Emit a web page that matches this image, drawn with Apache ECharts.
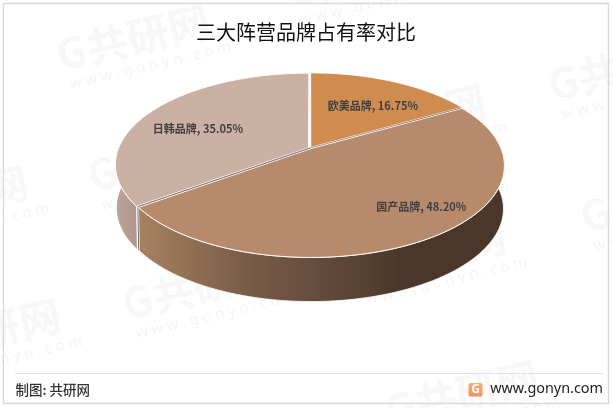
<!DOCTYPE html>
<html>
<head>
<meta charset="utf-8">
<style>html,body{margin:0;padding:0;background:#fff}#c{width:613px;height:408px}</style>
<script src="https://cdn.jsdelivr.net/npm/echarts@6/dist/echarts.min.js"></script>
</head>
<body>
<div id="c"></div>
<script>
const titleText = '三大阵营品牌占有率对比';
const categories = ['欧美品牌', '国产品牌', '日韩品牌'];
const shares = [16.75, 48.20, 35.05];
const sliceColors = ['#d08c4e', '#b88a6c', '#cbb0a4'];
const CJK = '"Noto Sans CJK SC", sans-serif';

// projection of the tilted disc
const CX = 310, AY = 148, RX = 190, RY = 88.5, K = 0.1848;
const BY = 191, BSX = 0.995, BSY = 1.01;
const GAP = 0.008;
const total = shares.reduce((a, b) => a + b, 0);
const starts = shares.map((_, i) => shares.slice(0, i).reduce((a, b) => a + b, 0) / total * Math.PI * 2);
const ends = shares.map((_, i) => shares.slice(0, i + 1).reduce((a, b) => a + b, 0) / total * Math.PI * 2);

function topPt(u, v) { const w = 1 + K * v; return [CX + RX * u / w, AY - RY * v / w]; }
function botPt(u, v) { const w = 1 + K * v; return [CX + BSX * RX * u / w, BY - BSY * RY * v / w]; }
function arc(a0, a1, off, fn) {
  const pts = [], n = 90;
  for (let j = 0; j <= n; j++) {
    const t = a0 + (a1 - a0) * j / n;
    pts.push(fn(off[0] + Math.sin(t), off[1] + Math.cos(t)));
  }
  return pts;
}
const wallFills = [
  '#6b5140',
  { type: 'linear', x: 140, y: 0, x2: 400, y2: 0, global: true, colorStops: [
    { offset: 0, color: '#a68260' }, { offset: 0.4, color: '#7a5c47' },
    { offset: 0.65, color: '#674e3e' }, { offset: 1, color: '#4a3729' }] },
  { type: 'linear', x: 115, y: 0, x2: 142, y2: 0, global: true, colorStops: [
    { offset: 0, color: '#bba499' }, { offset: 1, color: '#ad9489' }] }
];
const labelShift = [[10, 0], [42, 9], [-14, 4]];

function renderItem(params, api) {
  const i = params.dataIndex, val = api.value(0);
  const a0 = starts[i], a1 = a0 + val / total * Math.PI * 2, mid = (a0 + a1) / 2;
  const off = [GAP * Math.sin(mid), GAP * Math.cos(mid)];
  const apexT = topPt(off[0], off[1]);
  const rimT = arc(a0, a1, off, topPt), rimB = arc(a0, a1, off, botPt);
  const c = topPt(off[0] + 0.6 * Math.sin(mid), off[1] + 0.6 * Math.cos(mid));
  const children = [
    { type: 'polygon', z2: 1, shape: { points: rimT.concat(rimB.slice().reverse()) },
      style: { fill: wallFills[i], stroke: '#fff', lineWidth: 0.8 } },
    { type: 'polygon', z2: 5, shape: { points: [apexT].concat(rimT) },
      style: { fill: sliceColors[i], stroke: '#fff', lineWidth: 1 } },
    { type: 'text', z2: 9, style: {
      text: categories[i] + ', ' + val.toFixed(2) + '%',
      x: c[0] + labelShift[i][0], y: c[1] + labelShift[i][1],
      align: 'center', verticalAlign: 'middle',
      font: 'bold 11px ' + CJK, fill: '#404040' } }
  ];
  if (i > 0) { // dark cut faces seen between two slices
    const p = topPt(Math.sin(a0), Math.cos(a0));
    const q = topPt(0, 0);
    children.push({ type: 'line', z2: 6,
      shape: { x1: q[0], y1: q[1], x2: p[0], y2: p[1] },
      style: { stroke: '#7a6a60', lineWidth: 0.7 } });
  }
  if (i === 1) {
    const p = topPt(Math.sin(ends[1]), Math.cos(ends[1]));
    const b = botPt(Math.sin(ends[1]), Math.cos(ends[1]));
    const q = topPt(0, 0);
    children.push({ type: 'line', z2: 6,
      shape: { x1: q[0], y1: q[1], x2: p[0], y2: p[1] },
      style: { stroke: '#7a6a60', lineWidth: 0.7 } });
    children.push({ type: 'line', z2: 4,
      shape: { x1: p[0], y1: p[1], x2: b[0], y2: b[1] },
      style: { stroke: '#55504c', lineWidth: 0.8 } });
  }
  return { type: 'group', children };
}

const wmAnchors = [[62, 76], [554, 106], [586, 238], [93, 197], [128, 325], [391, 432], [358, 291], [338, 156], [-120, 237], [-87, 370], [292, 12]];
const wm = wmAnchors.map(p => ({
  type: 'group', x: p[0], y: p[1], rotation: 0.23, z: 0,
  children: [
    { type: 'text', style: { text: 'G共研网', x: 0, y: 0, align: 'left', verticalAlign: 'bottom', font: 'bold 42px ' + CJK, fill: '#f8f8f8' } },
    { type: 'text', style: { text: 'w w w . g o n y n . c o m', x: 6, y: 3, align: 'left', verticalAlign: 'top', font: '15px "Noto Sans", sans-serif', fill: '#f5f5f5' } }
  ]
}));

const chart = echarts.init(document.getElementById('c'), null, { renderer: 'canvas' });
chart.setOption({
  animation: false,
  backgroundColor: '#fff',
  title: { text: titleText, left: 301, top: 17, textAlign: 'center',
    textStyle: { color: '#111', fontSize: 20, fontWeight: 'normal', fontFamily: '"Noto Sans CJK SC"' } },
  graphic: wm.concat([
    { type: 'rect', z: 1, shape: { x: 3.5, y: 3.5, width: 605, height: 400 }, style: { fill: 'none', stroke: '#d9d9d9', lineWidth: 1.4 } },
    { type: 'line', z: 1, shape: { x1: 15, y1: 373.5, x2: 603, y2: 373.5 }, style: { stroke: '#e3e3e3', lineWidth: 1 } },
    { type: 'text', z: 1, style: { text: '制图: 共研网', x: 15.5, y: 390, verticalAlign: 'middle', font: '500 13.5px ' + CJK, fill: '#333' } },
    { type: 'rect', z: 1, shape: { x: 468.5, y: 383, width: 14, height: 13.5, r: 2 }, style: { fill: { type: 'linear', x: 0, y: 0, x2: 0, y2: 1, colorStops: [{ offset: 0, color: '#f7b15f' }, { offset: 1, color: '#f58f6e' }] } } },
    { type: 'text', z: 1, style: { text: 'G', x: 475.5, y: 390, align: 'center', verticalAlign: 'middle', font: 'bold 12px "Noto Sans", sans-serif', fill: '#fff' } },
    { type: 'text', z: 1, style: { text: 'www.gonyn.com', x: 603, y: 388.5, align: 'right', verticalAlign: 'middle', font: '14.4px "Noto Sans", sans-serif', fill: '#222' } }
  ]),
  series: [{
    type: 'custom', coordinateSystem: 'none', silent: true,
    renderItem,
    data: categories.map((name, i) => ({ name, value: [shares[i]] }))
  }]
});
</script>
</body>
</html>
